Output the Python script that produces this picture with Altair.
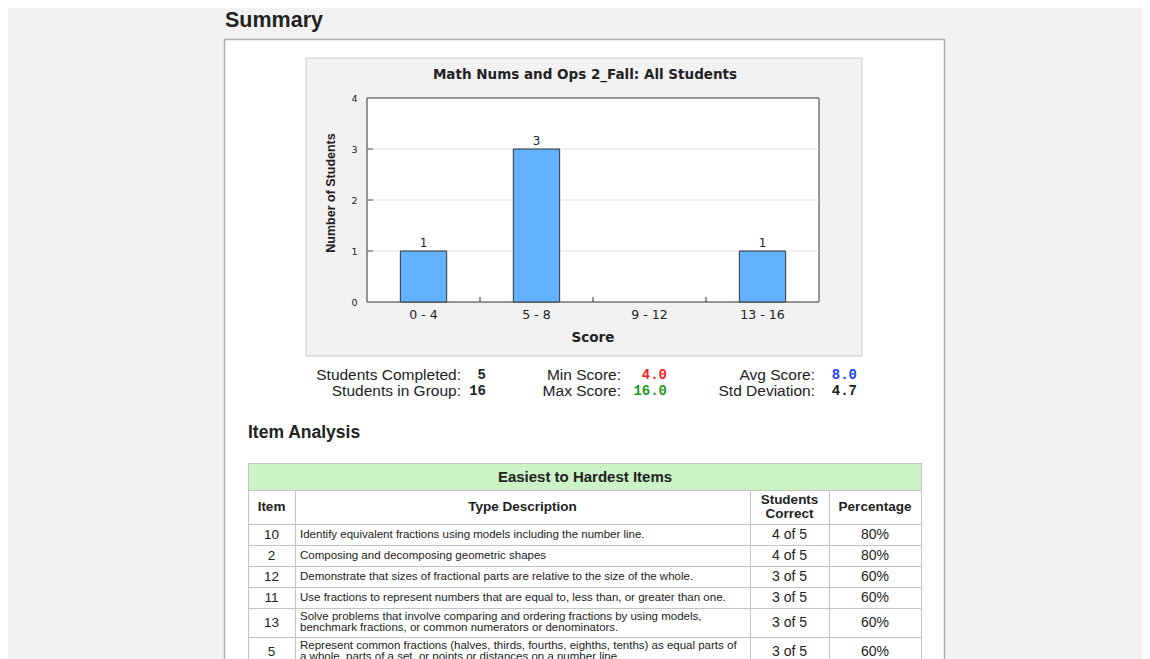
import altair as alt
import pandas as pd

# ---------------- data ----------------
score_bins = ["0 - 4", "5 - 8", "9 - 12", "13 - 16"]
num_students = [1, 3, 0, 1]
count_ticks = [0, 1, 2, 3, 4]
grid_counts = [1, 2, 3]

page_title = "Summary"
chart_title = "Math Nums and Ops 2_Fall: All Students"
x_title = "Score"
y_title = "Number of Students"

stat_labels_1 = ["Students Completed:", "Min Score:", "Avg Score:"]
stat_values_1 = ["5", "4.0", "8.0"]
stat_labels_2 = ["Students in Group:", "Max Score:", "Std Deviation:"]
stat_values_2 = ["16", "16.0", "4.7"]

section_title = "Item Analysis"
table_title = "Easiest to Hardest Items"
table_headers = [["Item"], ["Type Description"], ["Students", "Correct"], ["Percentage"]]
item_ids = ["10", "2", "12", "11", "13", "5"]
item_desc = [
    ["Identify equivalent fractions using models including the number line."],
    ["Composing and decomposing geometric shapes"],
    ["Demonstrate that sizes of fractional parts are relative to the size of the whole."],
    ["Use fractions to represent numbers that are equal to, less than, or greater than one."],
    ["Solve problems that involve comparing and ordering fractions by using models,",
     "benchmark fractions, or common numerators or denominators."],
    ["Represent common fractions (halves, thirds, fourths, eighths, tenths) as equal parts of",
     "a whole, parts of a set, or points or distances on a number line."],
]
item_correct = ["4 of 5", "4 of 5", "3 of 5", "3 of 5", "3 of 5", "3 of 5"]
item_pct = ["80%", "80%", "60%", "60%", "60%", "60%"]

# ---------------- styles / layout ----------------
stat_colors_1 = ["#222222", "#ff2020", "#1f3fff"]
stat_colors_2 = ["#222222", "#1e9a1e", "#222222"]

OX, OY = 367, 98          # page position of the plot area
PW, PH = 452, 204         # plot area size
TOTAL_W, TOTAL_H = 1134, 651
INK = "#222222"
SANS = "Liberation Sans"
CHART_FONT = "DejaVu Sans"
MONO = "Liberation Mono"

one = pd.DataFrame({"k": [0]})


def vx(p):
    return alt.value(p - OX)


def vy(p):
    return alt.value(p - OY)


def rect(x1, y1, x2, y2, fill, stroke=None, sw=1.0):
    kw = dict(fill=fill)
    if stroke:
        kw.update(stroke=stroke, strokeWidth=sw)
    else:
        kw.update(strokeWidth=0)
    return alt.Chart(one).mark_rect(**kw).encode(x=vx(x1), x2=vx(x2), y=vy(y1), y2=vy(y2))


def hline(x1, x2, y, color, sw=1.0):
    return alt.Chart(one).mark_rule(color=color, strokeWidth=sw).encode(
        x=vx(x1), x2=vx(x2), y=vy(y))


def vline(x, y1, y2, color, sw=1.0):
    return alt.Chart(one).mark_rule(color=color, strokeWidth=sw).encode(
        x=vx(x), y=vy(y1), y2=vy(y2))


def txt(s, x, y, size, font=SANS, weight="normal", color=INK, align="left", angle=None):
    kw = dict(text=s, fontSize=size, font=font, fontWeight=weight, color=color,
              align=align, baseline="middle")
    if angle is not None:
        kw["angle"] = angle
    return alt.Chart(one).mark_text(**kw).encode(x=vx(x), y=vy(y))


layers = []

# page frame / panels
layers.append(rect(224.5, 39.5, 944.5, 720, "#ffffff", "#b0b0b0", 1.5))
layers.append(rect(306, 58, 862, 356, "#f2f2f2", "#c8c8c8", 1))
layers.append(alt.Chart(one).mark_rect(fill="#ffffff", stroke="#333333", strokeWidth=1).encode(
    x=alt.value(0), x2=alt.value(PW), y=alt.value(0), y2=alt.value(PH)))

# scales / axes
PAD_IN, PAD_OUT = 0.59, 0.295
STEP = PW / (len(score_bins) - PAD_IN + 2 * PAD_OUT)
x_scale = alt.Scale(domain=score_bins, paddingInner=PAD_IN, paddingOuter=PAD_OUT)
y_scale = alt.Scale(domain=[0, 4], nice=False)
x_axis = alt.Axis(title=None, labelAngle=0, labelFont=CHART_FONT, labelFontSize=12.5,
                  labelColor=INK, labelPadding=6, ticks=False, domain=False, grid=False, zindex=1)
y_axis = alt.Axis(title=None, values=count_ticks, format="d", labelFont=CHART_FONT,
                  labelFontSize=9.5, labelColor=INK, labelPadding=10, ticks=False,
                  domain=False, grid=False, zindex=1)

grid_df = pd.DataFrame({"students": grid_counts})
layers.append(alt.Chart(grid_df).mark_rule(color="#e4e4e4").encode(
    x=alt.value(0), x2=alt.value(PW),
    y=alt.Y("students:Q", scale=y_scale, axis=y_axis)))
layers.append(alt.Chart(grid_df).mark_rule(color="#555555").encode(
    x=alt.value(0), x2=alt.value(6),
    y=alt.Y("students:Q", scale=y_scale, axis=y_axis)))

# x ticks between categories: half a step left of each following category's centre
tick_df = pd.DataFrame({"bin": score_bins[1:]})
layers.append(alt.Chart(tick_df).mark_rule(color="#333333", xOffset=-STEP / 2).encode(
    x=alt.X("bin:N", bandPosition=0.5, scale=x_scale, axis=x_axis),
    y=alt.value(PH), y2=alt.value(PH - 5)))

bar_df = pd.DataFrame({"bin": score_bins, "students": num_students})
layers.append(alt.Chart(bar_df).transform_filter("datum.students > 0").mark_bar(
    color="#62b2ff", stroke="#333333", strokeWidth=1).encode(
    x=alt.X("bin:N", scale=x_scale, axis=x_axis),
    y=alt.Y("students:Q", scale=y_scale, axis=y_axis)))
layers.append(alt.Chart(bar_df).transform_filter("datum.students > 0").mark_text(
    font=CHART_FONT, fontSize=12, color=INK, baseline="alphabetic", dy=-4).encode(
    x=alt.X("bin:N", scale=x_scale, axis=x_axis),
    y=alt.Y("students:Q", scale=y_scale, axis=y_axis),
    text="students:Q"))

# chart texts
layers.append(txt(chart_title, 585, 75, 13.5, font=CHART_FONT, weight="bold", align="center"))
layers.append(txt(x_title, 593, 338, 13.5, font=CHART_FONT, weight="bold", align="center"))
layers.append(txt(y_title, 331, 193, 12.5, font=SANS, weight="bold", align="center", angle=270))

# page texts
layers.append(txt(page_title, 225, 21, 21.5, weight="bold"))
layers.append(txt(section_title, 248, 433, 17.5, weight="bold"))

# stats
label_right = [461, 621, 815]
value_right = [486, 667, 857]
for i in range(3):
    layers.append(txt(stat_labels_1[i], label_right[i], 375, 15.5, align="right"))
    layers.append(txt(stat_values_1[i], value_right[i], 375, 14, font=MONO, weight="bold",
                      color=stat_colors_1[i], align="right"))
    layers.append(txt(stat_labels_2[i], label_right[i], 391, 15.5, align="right"))
    layers.append(txt(stat_values_2[i], value_right[i], 391, 14, font=MONO, weight="bold",
                      color=stat_colors_2[i], align="right"))

# table
col_bounds = [248, 295, 750, 829, 921]
row_bounds = [524, 545, 566, 587, 608, 637, 666]
LINE = "#c4c4c4"
layers.append(rect(248, 463, 921, 490, "#ccf3c6"))
for y in [463, 490] + row_bounds:
    layers.append(hline(248, 921, y + 0.5, LINE))
layers.append(vline(248.5, 463, 720, LINE))
layers.append(vline(921.5, 463, 720, LINE))
for x in col_bounds[1:-1]:
    layers.append(vline(x + 0.5, 490, 720, LINE))

layers.append(txt(table_title, 585, 477, 15, weight="bold", align="center"))
col_centers = [(col_bounds[i] + col_bounds[i + 1]) / 2 for i in range(4)]
for i, hdr in enumerate(table_headers):
    n = len(hdr)
    for j, line in enumerate(hdr):
        yy = 507 + (j - (n - 1) / 2) * 14
        layers.append(txt(line, col_centers[i], yy, 13.5, weight="bold", align="center"))

for r in range(len(item_ids)):
    yc = (row_bounds[r] + row_bounds[r + 1]) / 2
    layers.append(txt(item_ids[r], col_centers[0], yc, 13.5, align="center"))
    lines = item_desc[r]
    n = len(lines)
    for j, line in enumerate(lines):
        layers.append(txt(line, 300, yc + (j - (n - 1) / 2) * 11, 11.5))
    layers.append(txt(item_correct[r], col_centers[2], yc, 14, align="center"))
    layers.append(txt(item_pct[r], col_centers[3], yc, 14, align="center"))

chart = alt.layer(*layers).properties(
    width=PW,
    height=PH,
    padding={"left": OX - 8, "top": OY - 8,
             "right": TOTAL_W - (OX - 8) - PW, "bottom": TOTAL_H - (OY - 8) - PH},
    autosize=alt.AutoSizeParams(type="none"),
    background="#f2f2f2",
).configure_view(strokeWidth=0)

chart.save("out.html", embed_options={"renderer": "svg", "actions": False})
